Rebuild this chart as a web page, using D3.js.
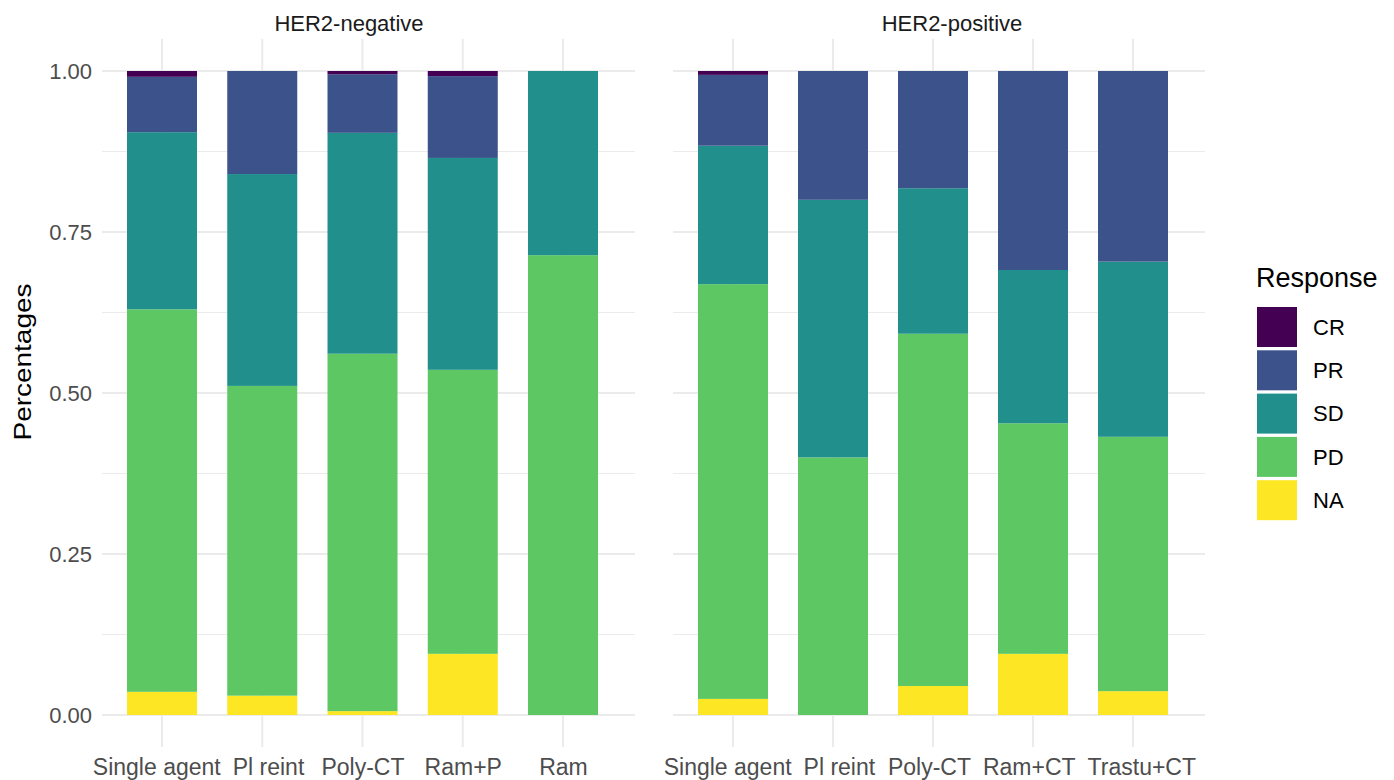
<!DOCTYPE html>
<html lang="en">
<head>
    <meta charset="UTF-8">
    <title>Response by HER2 status</title>
    <style>
        body { margin: 0; background: #fff; }
        text { font-family: "Liberation Sans", Arial, sans-serif; }
    </style>
</head>
<body>
<svg></svg>
<script src="https://d3js.org/d3.v7.min.js"></script>
<script>
    var width = 1394;
    var height = 780;

    // data (share of patients per response)
    var responses = ["CR", "PR", "SD", "PD", "NA"];
    var colors = ["#440154", "#3B528B", "#21908C", "#5DC863", "#FDE725"];
    var yTicks = [0, 0.25, 0.5, 0.75, 1];
    var yMinor = [0.125, 0.375, 0.625, 0.875];

    var negCategories = ["Single agent", "Pl reint", "Poly-CT", "Ram+P", "Ram"];
    var negNA = [0.036, 0.030, 0.006, 0.095, 0.000];
    var negPD = [0.594, 0.481, 0.555, 0.441, 0.714];
    var negSD = [0.275, 0.329, 0.343, 0.329, 0.286];
    var negPR = [0.086, 0.160, 0.091, 0.127, 0.000];
    var negCR = [0.009, 0.000, 0.005, 0.008, 0.000];

    var posCategories = ["Single agent", "Pl reint", "Poly-CT", "Ram+CT", "Trastu+CT"];
    var posNA = [0.025, 0.000, 0.045, 0.095, 0.037];
    var posPD = [0.644, 0.400, 0.547, 0.358, 0.395];
    var posSD = [0.215, 0.400, 0.226, 0.238, 0.272];
    var posPR = [0.110, 0.200, 0.182, 0.309, 0.296];
    var posCR = [0.006, 0.000, 0.000, 0.000, 0.000];

    var panels = [
        {title: "HER2-negative", cats: negCategories, x0: 102, x1: 635, titleX: 349,
            series: {CR: negCR, PR: negPR, SD: negSD, PD: negPD, NA: negNA}},
        {title: "HER2-positive", cats: posCategories, x0: 673, x1: 1205, titleX: 952,
            series: {CR: posCR, PR: posPR, SD: posSD, PD: posPD, NA: posNA}}
    ];

    var panelTop = 39, panelBottom = 747;
    var barWidth = 70;
    var labelGap = 12;

    var svg = d3.select("svg")
        .attr("width", width)
        .attr("height", height);

    var yScale = d3.scaleLinear().domain([0, 1]).range([715, 71]);
    var color = d3.scaleOrdinal().domain(responses).range(colors);

    // stack from bottom: NA, PD, SD, PR, CR
    var stackKeys = responses.slice().reverse();

    panels.forEach(function (p, pi) {
        var xScale = d3.scalePoint().domain(p.cats).range([p.x0 + 60, p.x1 - 72]);
        var g = svg.append("g");

        // grid
        g.selectAll(".minor").data(yMinor).enter().append("line")
            .attr("x1", p.x0).attr("x2", p.x1)
            .attr("y1", function (d) { return yScale(d); })
            .attr("y2", function (d) { return yScale(d); })
            .attr("stroke", "#ebebeb").attr("stroke-width", 1);
        g.selectAll(".major").data(yTicks).enter().append("line")
            .attr("x1", p.x0).attr("x2", p.x1)
            .attr("y1", function (d) { return yScale(d); })
            .attr("y2", function (d) { return yScale(d); })
            .attr("stroke", "#ebebeb").attr("stroke-width", 2);
        g.selectAll(".vgrid").data(p.cats).enter().append("line")
            .attr("x1", function (d) { return xScale(d); })
            .attr("x2", function (d) { return xScale(d); })
            .attr("y1", panelTop).attr("y2", panelBottom)
            .attr("stroke", "#ebebeb").attr("stroke-width", 2);

        var rows = p.cats.map(function (c, i) {
            var r = {cat: c};
            responses.forEach(function (k) { r[k] = p.series[k][i]; });
            return r;
        });
        var stacked = d3.stack().keys(stackKeys)(rows);

        g.selectAll(".layer").data(stacked).enter().append("g")
            .attr("fill", function (d) { return color(d.key); })
            .selectAll("rect").data(function (d) { return d; }).enter().append("rect")
            .attr("x", function (d) { return xScale(d.data.cat) - barWidth / 2; })
            .attr("width", barWidth)
            .attr("y", function (d) { return yScale(d[1]); })
            .attr("height", function (d) { return yScale(d[0]) - yScale(d[1]); });

        // x axis labels
        var xAxis = d3.axisBottom(xScale).tickSize(0).tickPadding(0);
        var ax = g.append("g")
            .attr("transform", "translate(0," + 759 + ")")
            .call(xAxis);
        ax.select(".domain").remove();
        var labels = ax.selectAll("text")
            .attr("dy", "0.71em")
            .attr("font-size", 23)
            .attr("fill", "#4d4d4d")
            .style("font-family", "Liberation Sans, Arial, sans-serif");

        // push neighbouring labels apart so they do not touch
        var nodes = labels.nodes();
        var shift = nodes.map(function () { return 0; });
        var w = nodes.map(function (n) { return n.getComputedTextLength(); });
        var cx = p.cats.map(function (c) { return xScale(c); });
        for (var it = 0; it < 5; it++) {
            for (var i = 0; i < nodes.length - 1; i++) {
                var rightEdge = cx[i] + shift[i] + w[i] / 2;
                var leftEdge = cx[i + 1] + shift[i + 1] - w[i + 1] / 2;
                var over = rightEdge + labelGap - leftEdge;
                if (over > 0) {
                    shift[i] -= over / 2;
                    shift[i + 1] += over / 2;
                }
            }
        }
        labels.attr("x", function (d, i) { return shift[i]; });

        // strip title
        g.append("text")
            .attr("x", p.titleX).attr("y", 31)
            .attr("text-anchor", "middle")
            .attr("font-size", 22)
            .attr("fill", "#1a1a1a")
            .text(p.title);

        if (pi === 0) {
            var yAxis = d3.axisLeft(yScale).tickValues(yTicks).tickSize(0).tickPadding(0)
                .tickFormat(d3.format(".2f"));
            var ay = g.append("g")
                .attr("transform", "translate(92,0)")
                .call(yAxis);
            ay.select(".domain").remove();
            ay.selectAll("text")
                .attr("font-size", 22)
                .attr("fill", "#4d4d4d")
                .style("font-family", "Liberation Sans, Arial, sans-serif");
        }
    });

    // y title
    svg.append("text")
        .attr("transform", "translate(31,362) rotate(-90)")
        .attr("text-anchor", "middle")
        .attr("font-size", 24)
        .attr("textLength", 157)
        .attr("lengthAdjust", "spacingAndGlyphs")
        .attr("fill", "#000")
        .text("Percentages");

    // legend
    var legend = svg.append("g").attr("transform", "translate(1257,0)");
    legend.append("text")
        .attr("x", -1).attr("y", 287)
        .attr("font-size", 27)
        .attr("fill", "#000")
        .text("Response");
    var items = legend.selectAll(".item").data(responses).enter().append("g")
        .attr("transform", function (d, i) { return "translate(0," + (307 + i * 43.3) + ")"; });
    items.append("rect")
        .attr("width", 40).attr("height", 40)
        .attr("fill", function (d) { return color(d); });
    items.append("text")
        .attr("x", 56).attr("y", 20).attr("dy", "0.35em")
        .attr("font-size", 22)
        .attr("fill", "#000")
        .text(function (d) { return d; });
</script>
</body>
</html>
